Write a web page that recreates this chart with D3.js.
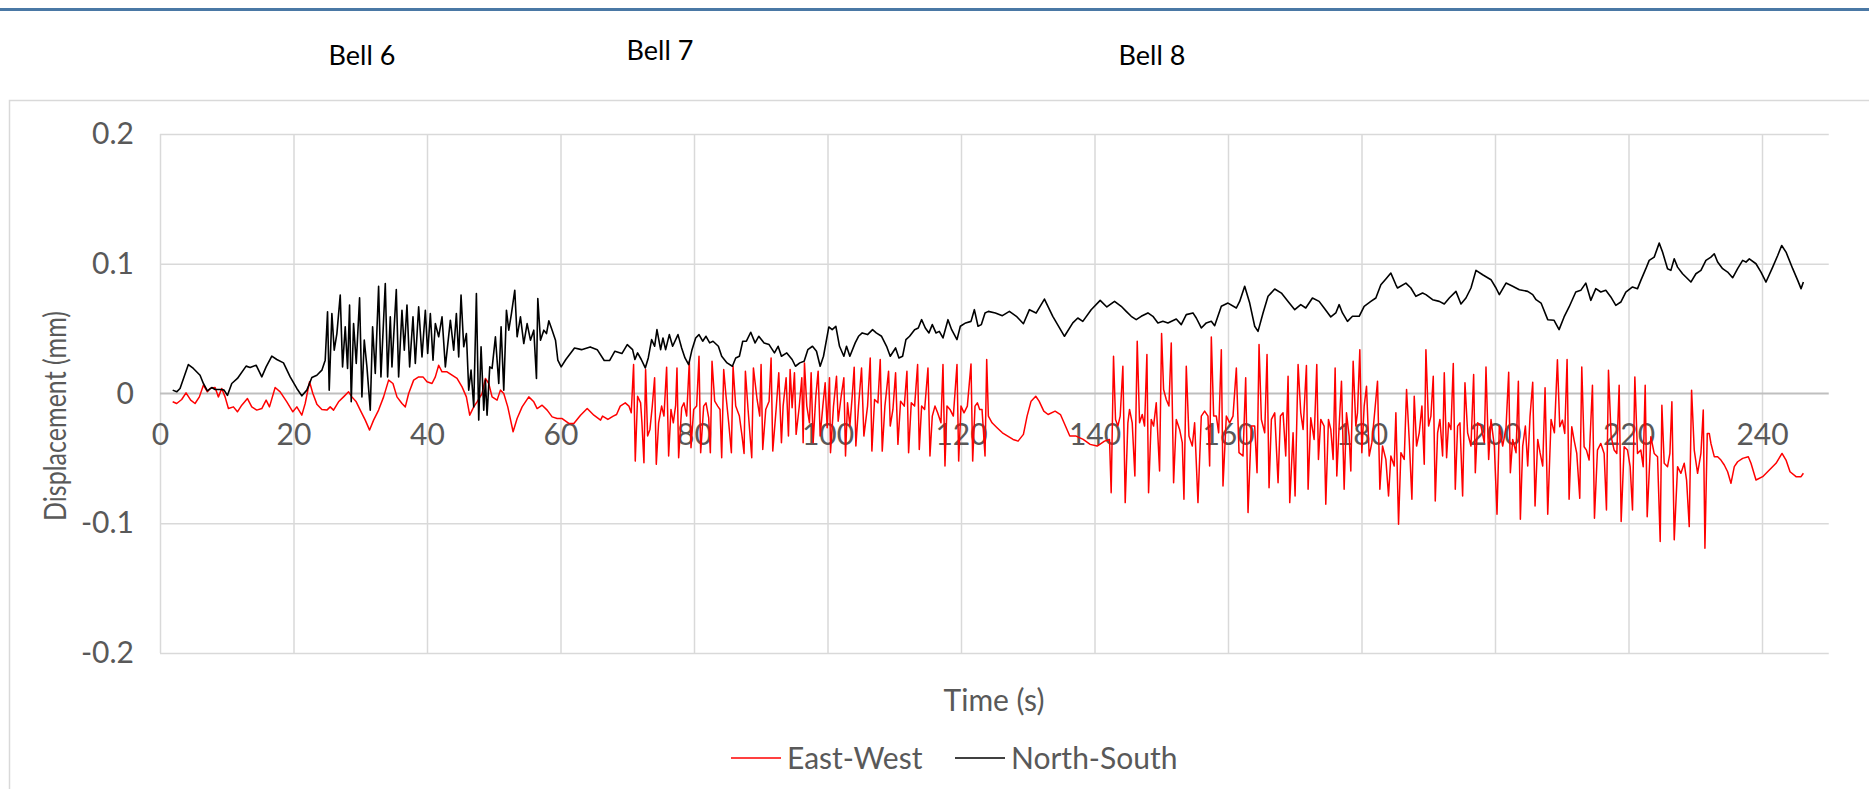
<!DOCTYPE html>
<html>
<head>
<meta charset="utf-8">
<script src="https://cdn.jsdelivr.net/npm/d3@7"></script>
<style>
  html, body { margin: 0; padding: 0; background: #ffffff; }
  svg { display: block; }
</style>
</head>
<body>
<svg id="chart" width="1869" height="789"></svg>
<script>
// ---- Data -------------------------------------------------------------
const timeTicks = [0, 20, 40, 60, 80, 100, 120, 140, 160, 180, 200, 220, 240];
const displacementTicks = [-0.2, -0.1, 0, 0.1, 0.2];
const seriesNames = ["East-West", "North-South"];
const seriesColors = ["#ff0000", "#000000"];
const bellLabels = ["Bell 6", "Bell 7", "Bell 8"];

// East-West displacement (mm) against time (s)
const eastWest = [
  [1.9,-0.0064],[2.5,-0.0077],[3.25,-0.0046],[3.9,0.0005],[4.6,-0.0051],[5.25,-0.0077],[5.9,-0.0026],
  [6.5,0.0064],[7.1,0.0013],[7.5,0.0039],[8.25,0.0046],[8.75,-0.0026],[9.25,0.0039],[9.75,-0.0026],
  [10.25,-0.0116],[11.0,-0.0103],[11.6,-0.0141],[12.25,-0.009],[13.1,-0.0039],[13.75,-0.0103],
  [14.5,-0.0128],[15.25,-0.0116],[15.9,-0.0051],[16.4,-0.0103],[17.25,0.0046],[18.0,0.0013],
  [19.0,-0.0064],[19.9,-0.0141],[20.5,-0.0103],[21.25,-0.0167],[21.75,-0.0077],[22.4,0.009],
  [22.9,0.0],[23.5,-0.0082],[24.25,-0.0123],[25.0,-0.0128],[25.5,-0.0103],[26.0,-0.0128],
  [26.75,-0.0064],[27.5,-0.0026],[28.25,0.0013],[28.75,-0.0026],[29.4,-0.0064],[30.0,-0.0128],
  [30.75,-0.0205],[31.4,-0.0282],[32.0,-0.0205],[32.75,-0.0128],[33.5,-0.0026],[34.25,0.0103],
  [34.9,0.0077],[35.5,-0.0026],[36.25,-0.0077],[36.75,-0.0103],[37.25,0.0],[38.0,0.0103],
  [38.75,0.0128],[39.4,0.0128],[40.0,0.009],[40.75,0.0077],[41.25,0.0128],[41.75,0.0218],
  [42.25,0.0167],[43.0,0.0167],[43.75,0.0141],[44.5,0.0116],[45.25,0.0051],[45.9,-0.0026],
  [46.4,-0.0167],[47.0,-0.0103],[47.5,-0.0064],[48.25,0.0],[48.75,0.0116],[49.25,0.0077],
  [49.75,-0.0026],[50.5,-0.0051],[51.0,0.0026],[51.5,0.0],[52.1,-0.0103],[52.9,-0.0295],
  [53.5,-0.0193],[54.25,-0.0103],[55.25,-0.0026],[56.0,-0.0064],[56.5,-0.0116],[57.25,-0.009],
  [58.0,-0.0128],[58.75,-0.018],[59.5,-0.0193],[60.25,-0.0193],[61.25,-0.0231],[62.0,-0.0231],
  [63.0,-0.0167],[64.0,-0.0116],[65.0,-0.0167],[66.0,-0.0205],[66.3,-0.0174],[67.1,-0.02],
  [67.9,-0.0174],[68.4,-0.0162],[68.95,-0.0097],[69.7,-0.0072],[70.25,-0.0097],[70.6,-0.0149],
  [70.95,0.0223],[71.2,-0.0521],[71.55,-0.0021],[72.0,-0.0072],[72.2,-0.0226],[72.5,-0.0533],
  [72.75,0.0185],[73.05,-0.0328],[73.4,-0.0277],[73.75,-0.0097],[74.1,0.0121],[74.35,-0.0546],
  [74.7,-0.0226],[75.15,-0.0097],[75.5,-0.0174],[75.9,0.0203],[76.2,-0.0482],[76.55,-0.0123],
  [76.9,-0.0226],[77.25,-0.0092],[77.45,0.0197],[77.7,-0.0495],[78.15,-0.011],[78.5,-0.0072],
  [78.9,-0.0174],[79.3,0.0249],[79.55,-0.0418],[79.95,-0.0123],[80.4,-0.0097],[80.75,0.0287],
  [81.0,-0.0456],[81.45,-0.0097],[81.8,-0.0072],[82.2,-0.0187],[82.45,-0.0456],[82.7,0.0249],
  [83.1,-0.0059],[83.55,-0.0097],[83.9,-0.0123],[84.15,-0.0495],[84.45,0.0185],[84.8,-0.0021],
  [85.2,-0.0226],[85.6,-0.0456],[85.85,0.021],[86.25,-0.0097],[86.8,-0.0174],[87.2,-0.0328],
  [87.5,-0.0462],[87.7,0.0172],[88.1,-0.0123],[88.65,-0.0495],[88.9,0.0197],[89.45,-0.0046],
  [89.85,-0.0174],[90.05,0.0223],[90.3,-0.0431],[90.75,-0.0123],[91.25,-0.0059],[91.55,0.0274],
  [91.8,-0.0444],[92.3,-0.0123],[92.7,0.0159],[93.1,-0.0379],[93.35,-0.0097],[93.8,0.0121],
  [94.15,-0.0328],[94.4,0.0185],[94.7,-0.011],[95.05,0.0159],[95.3,-0.0315],[95.75,-0.011],
  [96.15,0.0121],[96.35,-0.0379],[96.55,0.0236],[96.9,-0.0097],[97.3,-0.0226],[97.55,0.0159],
  [97.85,-0.0379],[98.25,-0.0021],[98.6,0.0172],[98.9,-0.0328],[99.3,-0.0097],[99.65,0.0082],
  [99.95,-0.0264],[100.3,0.0121],[100.45,-0.0456],[100.9,-0.0097],[101.35,0.0133],[101.6,-0.0213],
  [102.05,-0.0021],[102.45,0.0121],[102.7,-0.0482],[103.0,-0.0072],[103.35,-0.0251],[103.7,-0.0021],
  [104.0,0.0203],[104.25,-0.0405],[104.65,-0.0097],[105.1,0.0197],[105.45,-0.0328],[106.0,-0.0097],
  [106.4,0.0274],[106.65,-0.0444],[107.05,-0.0046],[107.55,-0.0072],[107.9,0.0262],[108.2,-0.0444],
  [108.6,-0.0097],[109.15,0.0172],[109.4,-0.0251],[109.8,-0.0123],[110.2,0.0159],[110.55,-0.0392],
  [110.95,-0.0059],[111.5,-0.0097],[111.9,0.0172],[112.15,-0.0456],[112.55,-0.0072],[113.05,-0.0097],
  [113.5,0.0223],[113.75,-0.0431],[114.1,-0.0097],[114.55,-0.0123],[115.05,0.0197],[115.35,-0.0482],
  [115.7,-0.0174],[116.1,-0.0097],[116.5,-0.0149],[117.0,-0.0226],[117.3,0.0223],[117.6,-0.0559],
  [117.9,-0.0097],[118.35,-0.0123],[118.85,-0.0174],[119.4,0.0223],[119.65,-0.0521],[120.0,-0.0097],
  [120.45,-0.0149],[120.95,-0.0097],[121.5,0.0228],[121.75,-0.0521],[122.1,-0.0097],[122.45,-0.0072],
  [122.8,-0.0123],[123.15,-0.0123],[123.6,-0.0482],[123.85,0.0262],[124.1,-0.0174],[124.65,-0.0226],
  [125.4,-0.0264],[126.2,-0.0303],[127.0,-0.0328],[127.8,-0.0354],[128.55,-0.0367],[129.35,-0.0315],
  [129.9,-0.0174],[130.5,-0.0059],[131.2,-0.0021],[131.7,-0.0059],[132.4,-0.0136],[133.05,-0.0162],
  [134.1,-0.0136],[134.9,-0.0162],[135.65,-0.0251],[136.3,-0.0328],[137.25,-0.0328],[138.3,-0.0354],
  [139.35,-0.0392],[140.4,-0.0405],[141.5,-0.0367],[142.25,-0.0354],[142.5,-0.0764],[142.85,0.0287],
  [143.15,-0.02],[143.5,-0.0251],[143.85,-0.0174],[144.25,0.021],[144.6,-0.0841],[145.0,-0.0226],
  [145.25,-0.0123],[145.65,-0.0226],[146.05,-0.0636],[146.4,0.0403],[146.75,-0.0226],[147.15,-0.0162],
  [147.5,-0.0251],[147.85,0.03],[148.1,-0.0764],[148.5,-0.02],[148.85,-0.0251],[149.25,-0.0072],
  [149.75,-0.0597],[150.05,0.0462],[150.35,0.0031],[150.75,-0.0046],[151.15,-0.0097],[151.5,0.039],
  [151.85,-0.0687],[152.25,-0.02],[152.75,-0.0277],[153.15,-0.0379],[153.4,-0.0815],[153.75,0.021],
  [154.15,-0.0328],[154.65,-0.0405],[155.0,-0.0226],[155.5,-0.0841],[156.0,-0.0174],[156.5,-0.0136],
  [157.0,-0.0174],[157.25,-0.0559],[157.5,0.0436],[157.85,-0.0174],[158.25,-0.0174],[158.6,-0.0303],
  [159.0,0.0338],[159.25,-0.0713],[159.75,-0.0174],[160.25,-0.0226],[160.75,-0.0174],[161.25,0.0197],
  [161.65,-0.0456],[162.25,-0.0482],[162.65,0.0121],[163.0,-0.0918],[163.5,-0.0251],[164.0,-0.0251],
  [164.35,-0.061],[164.65,0.0377],[165.0,-0.02],[165.5,-0.0303],[165.85,0.03],[166.15,-0.0726],
  [166.5,-0.02],[167.0,-0.0149],[167.5,-0.0687],[167.85,-0.0174],[168.25,-0.0149],[168.65,-0.0482],
  [169.0,0.0133],[169.25,-0.0841],[169.75,-0.0303],[170.05,-0.079],[170.5,0.0223],[170.9,-0.0149],
  [171.25,-0.0277],[171.75,0.0215],[172.0,-0.0738],[172.4,-0.0187],[172.9,-0.0354],[173.3,0.0223],
  [173.55,-0.0508],[173.9,-0.02],[174.4,-0.0251],[174.65,-0.0854],[175.05,-0.02],[175.4,-0.0277],
  [175.75,-0.0508],[176.05,0.0197],[176.3,-0.0636],[176.65,-0.0251],[177.0,0.0095],[177.4,-0.0738],
  [177.75,-0.0149],[178.15,-0.0328],[178.4,-0.0597],[178.75,0.0249],[179.15,-0.0251],[179.4,-0.0149],
  [179.75,0.0338],[180.05,-0.0456],[180.4,-0.0097],[180.75,0.0056],[181.15,-0.0482],[181.55,-0.0379],
  [181.9,-0.0187],[182.4,0.0095],[182.75,-0.0738],[183.15,-0.0405],[183.65,-0.0508],[184.05,-0.079],
  [184.4,-0.0482],[184.9,-0.0559],[185.15,-0.0149],[185.55,-0.1008],[185.9,-0.0456],[186.4,-0.0508],
  [186.75,0.0031],[187.15,-0.0354],[187.55,-0.0815],[187.9,-0.0021],[188.25,-0.0405],[188.65,-0.0303],
  [189.05,-0.0097],[189.4,-0.0546],[189.65,0.0338],[190.05,-0.0251],[190.4,-0.0174],[190.75,0.0133],
  [191.05,-0.0828],[191.4,-0.0303],[191.75,-0.02],[192.15,-0.0482],[192.4,0.0159],[192.75,-0.0495],
  [193.05,-0.0226],[193.4,-0.0277],[193.75,0.0231],[194.05,-0.0738],[194.4,-0.0251],[194.75,-0.0226],
  [195.15,-0.079],[195.5,0.0082],[195.9,-0.0303],[196.4,-0.0405],[196.8,0.0146],[197.05,-0.061],
  [197.4,-0.0226],[197.9,-0.0251],[198.4,-0.0379],[198.65,0.0205],[199.05,-0.0508],[199.4,-0.02],
  [199.9,-0.0405],[200.3,-0.0931],[200.65,-0.0251],[201.15,-0.0405],[201.65,-0.0264],[202.05,0.0164],
  [202.3,-0.061],[202.65,-0.0354],[203.15,-0.0456],[203.5,0.0095],[203.8,-0.0969],[204.15,-0.0405],
  [204.55,-0.0251],[204.9,-0.0559],[205.25,-0.0174],[205.65,0.0087],[206.0,-0.0867],[206.4,-0.0354],
  [206.75,-0.0456],[207.15,-0.0559],[207.5,0.0044],[207.9,-0.0931],[208.4,-0.02],[208.9,-0.0303],
  [209.35,0.026],[209.7,-0.0256],[210.1,-0.0205],[210.45,-0.0308],[210.8,0.0262],[211.1,-0.0815],
  [211.5,-0.0256],[211.85,-0.0359],[212.25,-0.0462],[212.7,-0.0808],[213.0,0.0205],[213.35,-0.041],
  [213.7,-0.0436],[214.1,-0.0513],[214.6,0.0064],[214.9,-0.0962],[215.35,-0.0436],[215.85,-0.0385],
  [216.35,-0.0462],[216.7,-0.0897],[217.0,0.0179],[217.4,-0.0333],[217.85,-0.0436],[218.25,-0.0462],
  [218.6,0.0064],[218.9,-0.0987],[219.35,-0.041],[219.85,-0.0436],[220.25,-0.0564],[220.6,-0.0897],
  [220.95,0.0128],[221.35,-0.0462],[221.85,-0.0436],[222.2,-0.0564],[222.5,0.0064],[222.8,-0.0949],
  [223.35,-0.0333],[223.85,-0.0462],[224.35,-0.0487],[224.75,-0.1141],[225.0,-0.009],[225.35,-0.0538],
  [225.85,-0.0564],[226.2,-0.0462],[226.5,-0.0064],[226.85,-0.1128],[227.35,-0.0564],[227.85,-0.0615],
  [228.35,-0.0538],[228.7,-0.0667],[229.1,-0.1026],[229.45,0.0026],[229.85,-0.0436],[230.35,-0.0615],
  [230.85,-0.0462],[231.2,-0.0128],[231.45,-0.1192],[231.8,-0.0308],[232.1,-0.0308],[232.35,-0.0385],
  [232.85,-0.0487],[233.35,-0.0487],[233.85,-0.0513],[234.35,-0.0551],[234.85,-0.0603],[235.35,-0.0692],
  [235.85,-0.0564],[236.35,-0.0526],[237.1,-0.05],[237.95,-0.0487],[238.35,-0.0538],[239.1,-0.0667],
  [240.1,-0.0641],[241.1,-0.059],[242.1,-0.0538],[243.0,-0.0462],[243.6,-0.0513],[244.2,-0.0603],
  [245.1,-0.0641],[245.85,-0.0641],[246.2,-0.0615]
];

// North-South displacement (mm) against time (s)
const northSouth = [
  [1.9,0.0026],[2.5,0.0013],[3.0,0.0039],[4.25,0.0223],[5.0,0.0193],[6.0,0.0141],[6.5,0.0077],
  [7.1,0.0021],[7.75,0.0046],[8.25,0.0031],[9.25,0.0031],[9.6,0.0026],[10.1,-0.0015],[10.75,0.0077],
  [11.6,0.0116],[12.9,0.0211],[13.5,0.02],[14.4,0.0218],[15.25,0.0128],[15.9,0.0205],[16.75,0.0288],
  [17.5,0.0262],[18.5,0.0236],[19.5,0.0128],[20.5,0.0039],[21.25,-0.0018],[22.0,0.0026],[22.75,0.0123],
  [23.5,0.0141],[24.25,0.018],[24.75,0.0257],
  [25.1,0.0629],[25.35,0.0026],[25.75,0.0616],[26.1,0.0334],[26.5,0.0462],[27.0,0.0758],[27.35,0.0205],
  [27.75,0.0514],[28.1,0.0193],[28.4,0.0681],[28.65,-0.0064],[29.0,0.0539],[29.4,0.0231],[29.9,0.0737],
  [30.25,-0.0026],[30.6,0.0411],[31.0,0.0205],[31.5,-0.0128],[31.85,0.0514],[32.25,0.0154],[32.75,0.0827],
  [33.1,0.0128],[33.75,0.0847],[34.1,0.0128],[34.5,0.0591],[34.75,0.0205],[35.4,0.0801],[35.75,0.0128],
  [36.25,0.0642],[36.6,0.0334],[37.0,0.0681],[37.4,0.0205],[37.9,0.0591],[38.25,0.0231],[38.75,0.0668],
  [39.25,0.0282],[39.75,0.0642],[40.1,0.0308],[40.5,0.0616],[40.9,0.0257],[41.25,0.0539],[41.75,0.0437],
  [42.25,0.0591],[42.75,0.0205],[43.5,0.0565],[44.0,0.0334],[44.4,0.0616],[44.75,0.0282],[45.1,0.0758],
  [45.5,0.036],[45.9,0.0462],[46.25,0.0026],[46.6,0.018],[47.0,-0.0103],[47.4,0.077],[47.75,-0.0205],
  [48.1,0.036],[48.5,-0.0128],[48.75,0.0103],[49.0,-0.0167],[49.4,0.0205],[49.75,0.0193],[50.25,0.0437],
  [50.75,0.0077],[51.1,0.0514],[51.5,0.0026],[51.9,0.0642],[52.25,0.0488],[52.65,0.0616],[53.15,0.0796],
  [53.5,0.0437],[54.0,0.0591],[54.5,0.0385],[55.0,0.0539],[55.5,0.0411],[56.0,0.0488],[56.4,0.0116],
  [56.6,0.0732],[57.0,0.0411],[57.5,0.0488],[57.9,0.0462],[58.25,0.056],[58.75,0.0488],[59.25,0.0411],
  [59.6,0.0257],[60.1,0.0205],
  [60.8,0.0262],[62.1,0.0351],[63.15,0.0338],[64.45,0.0359],[65.5,0.0338],[66.55,0.0254],[67.35,0.0254],
  [68.15,0.0326],[69.2,0.0308],[70.0,0.0377],[70.8,0.0338],[71.15,0.0262],[71.55,0.0313],[72.1,0.0262],
  [72.7,0.0197],[73.15,0.0274],[73.65,0.0415],[74.1,0.0364],[74.45,0.0492],[75.0,0.0338],[75.35,0.0428],
  [75.75,0.0338],[76.3,0.0454],[76.8,0.0364],[77.6,0.0454],[78.15,0.0351],[78.65,0.0274],[79.2,0.0223],
  [79.7,0.0338],[80.25,0.0428],[80.75,0.0454],[81.3,0.0403],[81.8,0.0441],[82.35,0.039],[82.85,0.0403],
  [83.65,0.0364],[84.15,0.0287],[84.95,0.0236],[85.75,0.021],[86.25,0.0274],[86.8,0.0287],[87.3,0.0403],
  [87.85,0.0403],[88.5,0.0472],[89.15,0.039],[89.7,0.0441],[90.5,0.039],[91.25,0.0377],[92.05,0.0313],
  [92.6,0.0364],[93.1,0.0287],[93.9,0.0313],[94.7,0.0262],[95.2,0.021],[95.85,0.0236],[96.5,0.0249],
  [97.05,0.0338],[97.75,0.0364],[98.35,0.0326],[98.9,0.021],[99.4,0.0287],[100.2,0.0513],[100.7,0.0492],
  [101.25,0.0518],[101.8,0.0364],[102.45,0.0287],[102.85,0.0364],[103.35,0.0287],[104.15,0.039],
  [104.65,0.0441],[105.2,0.0467],[106.0,0.0454],[106.75,0.0492],[107.3,0.0467],[108.1,0.0441],
  [108.85,0.0364],[109.4,0.0287],[110.2,0.0351],[110.7,0.0274],[111.25,0.0287],[111.75,0.0415],
  [112.3,0.0441],[113.05,0.0492],[113.6,0.0505],[114.1,0.0569],[114.65,0.0505],[115.2,0.0467],
  [115.7,0.0531],[116.25,0.0467],[116.75,0.0479],[117.3,0.0428],[118.05,0.0569],[118.6,0.0492],
  [119.4,0.0415],[119.9,0.0518],[120.7,0.0544],[121.5,0.0556],[122.0,0.0646],[122.55,0.0518],
  [123.05,0.0531],[123.6,0.0621],[124.1,0.0633],[125.15,0.0621],[126.2,0.06],[127.25,0.0633],
  [128.3,0.0595],[129.35,0.0538],[130.25,0.0646],[131.25,0.062],[132.5,0.0728],[133.75,0.0595],
  [135.5,0.0441],[136.75,0.0544],[137.5,0.0582],[138.25,0.0556],[139.5,0.0646],[140.85,0.0718],
  [141.85,0.0667],[143.0,0.071],[144.0,0.0672],[144.75,0.0633],[145.5,0.0595],[146.25,0.0569],
  [147.0,0.0595],[148.0,0.0621],[148.75,0.0595],[149.5,0.0544],[150.25,0.0556],[151.0,0.0544],
  [152.25,0.0574],[153.0,0.0531],[153.75,0.0608],[154.75,0.0621],[155.25,0.0582],[156.0,0.0505],
  [156.75,0.0544],[157.5,0.0556],[158.0,0.0523],[159.0,0.0672],[160.0,0.0697],[161.25,0.0659],
  [161.75,0.071],[162.5,0.0826],[163.25,0.0697],[164.0,0.0518],[164.5,0.0479],[165.25,0.0621],
  [166.0,0.0749],[167.0,0.0805],[168.0,0.0774],[169.0,0.071],[170.0,0.0646],[170.9,0.0685],
  [171.65,0.0659],[172.65,0.0736],[173.65,0.071],[174.4,0.0659],[175.4,0.059],[176.15,0.0621],
  [176.65,0.0685],[177.15,0.0621],[177.9,0.0556],[178.65,0.0595],[179.65,0.0595],[180.4,0.0672],
  [181.4,0.071],[182.15,0.0736],[182.9,0.0838],[183.65,0.0882],[184.4,0.0928],[185.15,0.0838],
  [185.4,0.0813],[186.65,0.0851],[187.4,0.0813],[188.15,0.0749],[189.15,0.0774],[189.65,0.0762],
  [190.65,0.0723],[191.65,0.071],[192.4,0.069],[193.15,0.0736],[194.15,0.0787],[194.9,0.069],
  [195.65,0.0736],[196.4,0.0813],[197.15,0.0949],[198.15,0.0915],[199.4,0.0877],[200.15,0.0813],
  [200.65,0.0762],[201.65,0.0851],[202.65,0.0826],[203.65,0.08],[204.9,0.0787],[205.65,0.0762],
  [206.15,0.0723],[206.9,0.0697],[207.9,0.0569],[208.85,0.0564],[209.6,0.0492],[210.35,0.059],
  [211.1,0.0667],[212.1,0.0782],[212.85,0.0795],[213.6,0.0851],[214.35,0.0718],[215.1,0.0808],
  [215.85,0.0782],[216.6,0.0795],[217.35,0.0744],[218.1,0.0679],[218.85,0.0705],[219.6,0.0782],
  [220.6,0.0821],[221.35,0.0808],[221.85,0.0872],[222.6,0.0962],[223.1,0.1026],[223.85,0.1051],
  [224.6,0.1159],[225.1,0.109],[225.85,0.0962],[226.35,0.0949],[226.85,0.1038],[227.35,0.0974],
  [228.1,0.0923],[229.35,0.0859],[230.1,0.0923],[230.85,0.0949],[231.6,0.1026],[232.35,0.1051],
  [232.85,0.1077],[233.35,0.1013],[234.1,0.0962],[234.85,0.0936],[235.6,0.0892],[236.35,0.0962],
  [237.1,0.1026],[237.6,0.1013],[238.1,0.1038],[239.1,0.1],[239.85,0.0936],[240.6,0.0859],
  [241.6,0.0974],[242.35,0.1064],[242.95,0.1141],[243.6,0.109],[244.6,0.0962],[245.35,0.0872],
  [245.85,0.0808],[246.2,0.0859]
];

// ---- Layout -----------------------------------------------------------
const W = 1869, H = 789;
const plot = { left: 160, right: 1828.75, top: 134, bottom: 653 };
const font = "Lato, 'Open Sans', sans-serif";
const textGrey = "#595959";
const gridGrey = "#d9d9d9";
const labelSize = 30;

const svg = d3.select("#chart");

const x = d3.scaleLinear().domain([0, 250]).range([plot.left, plot.right]);
const y = d3.scaleLinear().domain([-0.2, 0.2]).range([plot.bottom, plot.top]);

svg.append("rect").attr("width", W).attr("height", H).attr("fill", "#ffffff");

// header rule across the page
svg.append("rect").attr("x", 0).attr("y", 8).attr("width", W).attr("height", 3).attr("fill", "#4a78a5");

// chart frame
svg.append("rect")
  .attr("x", 9.5).attr("y", 100.5).attr("width", W + 20).attr("height", H)
  .attr("fill", "none").attr("stroke", gridGrey).attr("stroke-width", 1.5);

// bell annotations above the plot
const bellPos = [[362, 65], [660, 60], [1152, 65]];
svg.append("g").selectAll("text").data(bellLabels).join("text")
  .attr("x", (d, i) => bellPos[i][0]).attr("y", (d, i) => bellPos[i][1])
  .attr("text-anchor", "middle")
  .attr("font-family", font).attr("font-size", 27).attr("fill", "#000000")
  .text(d => d);

// vertical gridlines
const gx = svg.append("g").attr("transform", `translate(0,${plot.bottom})`)
  .call(d3.axisBottom(x).tickValues(timeTicks).tickSize(-(plot.bottom - plot.top)).tickFormat(""));
gx.select(".domain").remove();
gx.selectAll("line").attr("stroke", gridGrey).attr("stroke-width", 1.5);

// horizontal gridlines
const gy = svg.append("g").attr("transform", `translate(${plot.left},0)`)
  .call(d3.axisLeft(y).tickValues(displacementTicks.filter(v => v !== 0))
    .tickSize(-(plot.right - plot.left)).tickFormat(""));
gy.select(".domain").remove();
gy.selectAll("line").attr("stroke", gridGrey).attr("stroke-width", 1.5);

// zero (category) axis line
svg.append("line")
  .attr("x1", plot.left).attr("x2", plot.right).attr("y1", y(0)).attr("y2", y(0))
  .attr("stroke", "#bfbfbf").attr("stroke-width", 1.8);

// time tick labels, hanging below the zero line
const xl = svg.append("g").attr("transform", `translate(0,${y(0)})`)
  .call(d3.axisBottom(x).tickValues(timeTicks).tickSize(0).tickPadding(30).tickFormat(d3.format("d")));
xl.select(".domain").remove();
xl.selectAll("text").attr("font-family", font).attr("font-size", labelSize).attr("fill", textGrey);

// displacement tick labels
const yl = svg.append("g").attr("transform", `translate(${plot.left},0)`)
  .call(d3.axisLeft(y).tickValues(displacementTicks).tickSize(0).tickPadding(26).tickFormat(d => String(d)));
yl.select(".domain").remove();
yl.selectAll("text").attr("font-family", font).attr("font-size", labelSize).attr("fill", textGrey);

// series
const line = d3.line().x(d => x(d[0])).y(d => y(d[1]));
[eastWest, northSouth].forEach((series, i) => {
  svg.append("path")
    .datum(series)
    .attr("d", line)
    .attr("fill", "none")
    .attr("stroke", seriesColors[i])
    .attr("stroke-width", i === 0 ? 1.5 : 1.6)
    .attr("stroke-linejoin", "round");
});

// axis titles
svg.append("text")
  .attr("x", 994).attr("y", 711).attr("text-anchor", "middle")
  .attr("font-family", font).attr("font-size", labelSize).attr("fill", textGrey)
  .text("Time (s)");
svg.append("text")
  .attr("transform", "translate(55,416) rotate(-90)")
  .attr("x", -105).attr("dy", "0.35em")
  .attr("textLength", 210).attr("lengthAdjust", "spacingAndGlyphs")
  .attr("font-family", font).attr("font-size", 30).attr("fill", textGrey)
  .text("Displacement (mm)");

// legend
const legendX = [731, 955];
const legendY = 758;
const lg = svg.append("g");
seriesNames.forEach((name, i) => {
  lg.append("line")
    .attr("x1", legendX[i]).attr("x2", legendX[i] + 50)
    .attr("y1", legendY).attr("y2", legendY)
    .attr("stroke", seriesColors[i]).attr("stroke-width", 1.5);
  lg.append("text")
    .attr("x", legendX[i] + 56).attr("y", legendY).attr("dy", "0.35em")
    .attr("font-family", font).attr("font-size", labelSize).attr("fill", textGrey)
    .text(name);
});
</script>
</body>
</html>
